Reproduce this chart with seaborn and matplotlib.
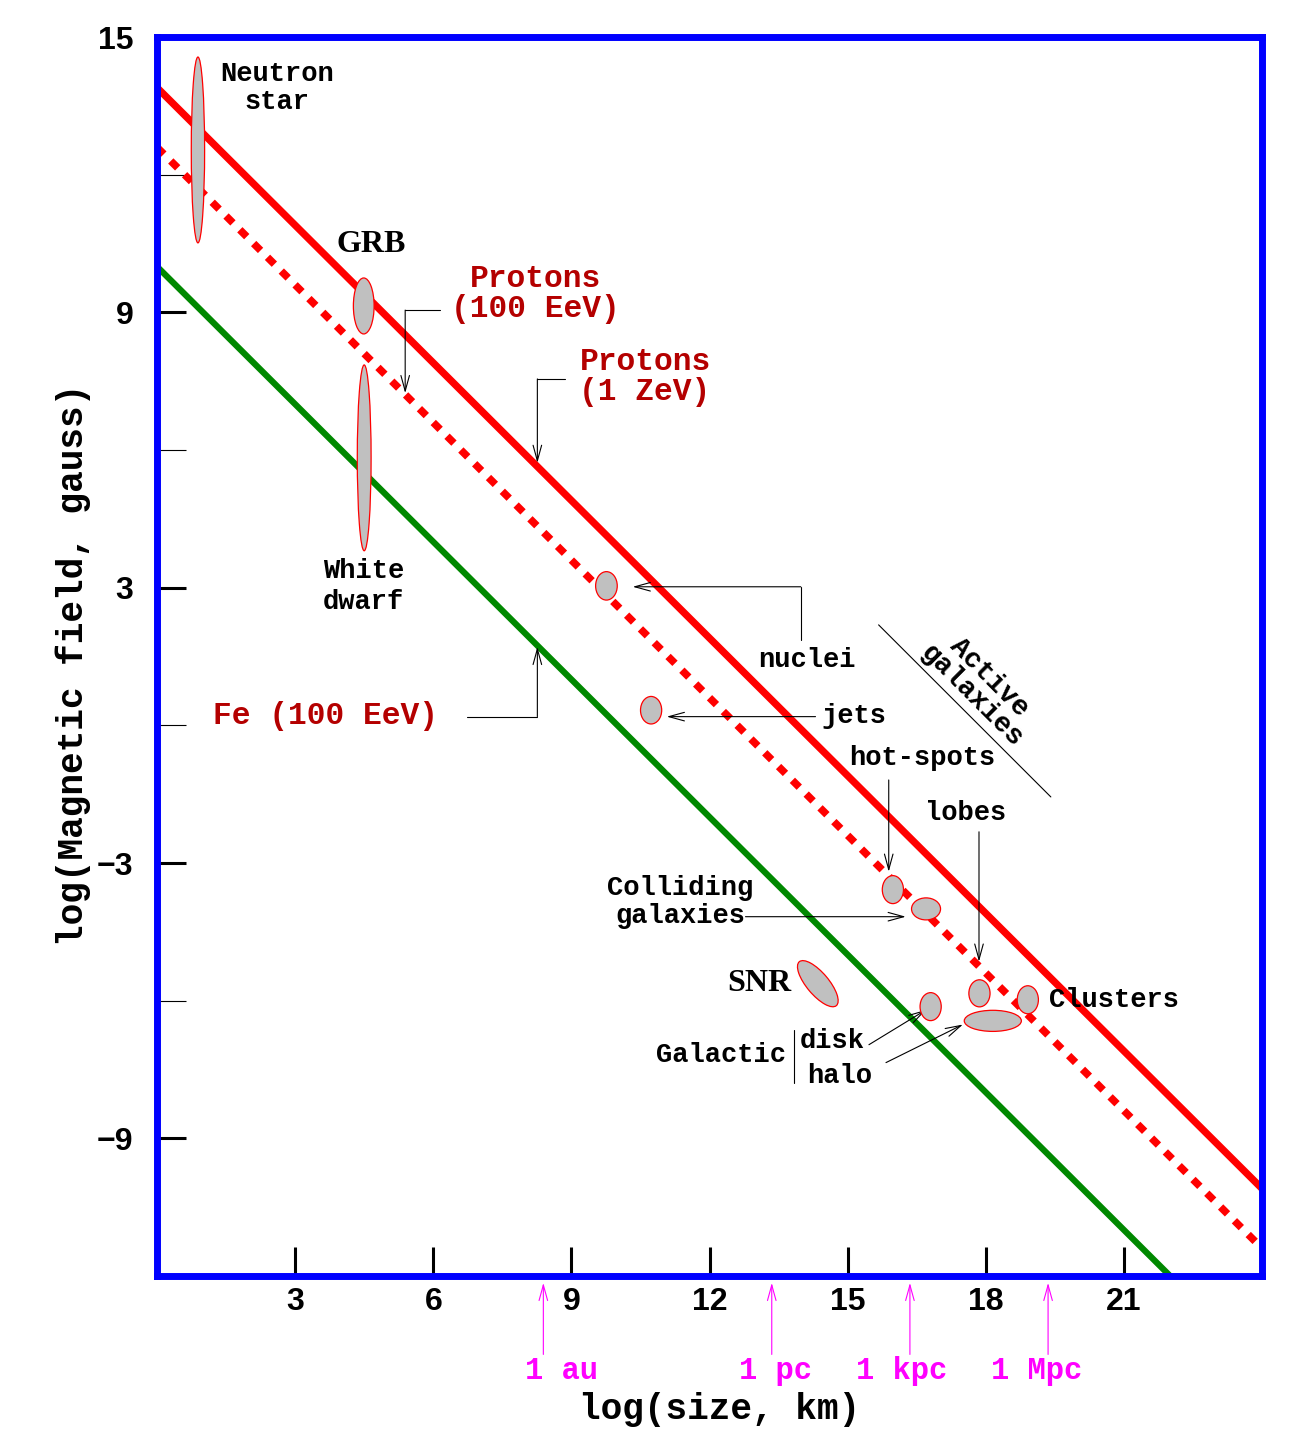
import matplotlib
matplotlib.use('Agg')
import matplotlib.pyplot as plt
from matplotlib.patches import Ellipse
import seaborn as sns

# Hillas lines: log B at both ends of the size range
line_x = [0, 24]
p_1zev = [13.9, -10.1]
p_100eev = [12.6, -11.4]
fe_x = [0, 22]
fe_100eev = [10.0, -12.0]

# sources: centre (log size, log B), extent and tilt
src_names = ['Neutron star', 'GRB', 'White dwarf', 'nuclei', 'jets', 'hot-spots',
             'Colliding galaxies', 'SNR', 'lobes', 'Clusters', 'disk', 'halo']
src_x = [0.89, 4.49, 4.50, 9.76, 10.73, 15.98, 16.70, 14.35, 17.86, 18.91, 16.80, 18.15]
src_y = [12.54, 9.14, 5.83, 3.04, 0.33, -3.58, -4.00, -5.63, -5.84, -5.98, -6.13, -6.44]
src_w = [0.29, 0.45, 0.30, 0.47, 0.46, 0.46, 0.63, 1.25, 0.46, 0.46, 0.46, 1.24]
src_h = [4.05, 1.22, 4.05, 0.62, 0.60, 0.61, 0.48, 0.48, 0.59, 0.61, 0.61, 0.46]
src_angle = [0, 0, 0, 0, 0, 0, 0, -50, 0, 0, 0, 0]

# distance units on the size axis
unit_names = ['1 au', '1 pc', '1 kpc', '1 Mpc']
unit_x = [8.39, 13.35, 16.35, 19.35]

xticks = [3, 6, 9, 12, 15, 18, 21]
yticks = [15, 9, 3, -3, -9]
yminor = [12, 6, 0, -6]

sns.set_theme(style='white')
plt.rcParams['font.family'] = ['Liberation Sans', 'DejaVu Sans']
plt.rcParams['text.color'] = 'black'
plt.rcParams['axes.labelcolor'] = 'black'
plt.rcParams['xtick.color'] = 'black'
plt.rcParams['ytick.color'] = 'black'

MONO = 'Liberation Mono'
DARKRED = '#b40000'

fig = plt.figure(figsize=(13.08, 14.48), dpi=100)
ax = fig.add_axes([0.120, 0.1188, 0.845, 0.8556])

sns.lineplot(x=line_x, y=p_1zev, ax=ax, color='#ff0000', lw=5.2)
sns.lineplot(x=line_x, y=p_100eev, ax=ax, color='#ff0000', lw=5.4)
ax.lines[-1].set_dashes([1.3, 1.3])
ax.lines[-1].set_dash_capstyle('butt')
sns.lineplot(x=fe_x, y=fe_100eev, ax=ax, color='#008800', lw=4.5)

for x, y, w, h, a in zip(src_x, src_y, src_w, src_h, src_angle):
    ax.add_patch(Ellipse((x, y), w, h, angle=a, facecolor='#c0c0c0',
                         edgecolor='#ff0000', lw=0.9, zorder=5))

ax.set_xlim(0, 24)
ax.set_ylim(-12, 15)
for s in ax.spines.values():
    s.set_color('#0000ff')
    s.set_linewidth(5)

ax.set_xticks(xticks)
ax.set_yticks(yticks)
ax.set_yticks(yminor, minor=True)
ax.tick_params(axis='both', which='major', direction='in', length=21, width=2.2,
               color='black', labelcolor='black', labelsize=23)
ax.tick_params(axis='y', which='minor', direction='in', length=21, width=0.8,
               color='black', left=True)
ax.tick_params(axis='y', which='major', pad=17, left=True)
ax.tick_params(axis='x', which='major', pad=8, bottom=True)
ax.set_yticklabels(['15', '9', '3', '\u22123', '\u22129'])
for t in ax.get_xticklabels() + ax.get_yticklabels():
    t.set_fontweight('bold')

ax.set_ylabel('log(Magnetic field, gauss)', family=MONO, weight='bold', size=26)
ax.yaxis.set_label_coords(-0.06, 0.493)
ax.set_xlabel('log(size, km)', family=MONO, weight='bold', size=26)
ax.xaxis.set_label_coords(0.509, -0.094)


def label(x, y, s, size=19.5, color='black', ha='center', spacing=1.0, **kw):
    ax.text(x, y, s, family=MONO, weight='bold', size=size, color=color,
            ha=ha, va='center', linespacing=spacing, **kw)


def pointer(pts, color='black'):
    xs = [p[0] for p in pts]
    ys = [p[1] for p in pts]
    ax.plot(xs[:-1], ys[:-1], color=color, lw=0.8, clip_on=False)
    ax.annotate('', xy=pts[-1], xytext=pts[-2], annotation_clip=False,
                arrowprops=dict(arrowstyle='->,head_length=0.8,head_width=0.22',
                                mutation_scale=14, lw=0.8, color=color,
                                shrinkA=0, shrinkB=0))


label(2.61, 13.89, 'Neutron\nstar', spacing=1.1)
ax.text(4.65, 10.47, 'GRB', family='Liberation Serif', weight='bold', size=23,
        ha='center', va='center', color='black')
label(4.48, 3.02, 'White\ndwarf', spacing=1.25)
label(8.22, 9.40, 'Protons\n(100 EeV)', size=22.5, color=DARKRED)
label(10.60, 7.59, 'Protons\n(1 ZeV)', size=22.5, color=DARKRED)
label(3.66, 0.21, 'Fe (100 EeV)', size=22.5, color=DARKRED)
label(14.11, 1.43, 'nuclei')
label(15.13, 0.21, 'jets')
label(16.61, -0.71, 'hot-spots')
label(17.57, -1.90, 'lobes')
label(11.37, -3.85, 'Colliding\ngalaxies', spacing=1.1)
ax.text(13.07, -5.63, 'SNR', family='Liberation Serif', weight='bold', size=23,
        ha='center', va='center', color='black')
label(19.37, -5.98, 'Clusters', ha='left')
label(12.24, -7.18, 'Galactic')
label(14.67, -6.87, 'disk')
label(14.83, -7.64, 'halo')
label(17.88, 0.84, 'Active\ngalaxies', size=20, rotation=-45)
ax.plot([15.67, 19.41], [2.19, -1.56], color='black', lw=0.8)
ax.plot([13.83, 13.83], [-6.63, -7.79], color='black', lw=0.8)

pointer([(6.15, 9.05), (5.39, 9.05), (5.39, 7.24)])
pointer([(8.87, 7.55), (8.26, 7.55), (8.26, 5.72)])
pointer([(6.74, 0.19), (8.26, 0.19), (8.26, 1.71)])
pointer([(13.98, 1.86), (13.98, 3.02), (10.33, 3.02)])
pointer([(14.30, 0.19), (11.07, 0.19)])
pointer([(15.89, -1.19), (15.89, -3.19)])
pointer([(17.85, -2.32), (17.85, -5.15)])
pointer([(12.78, -4.17), (16.26, -4.17)])
pointer([(15.46, -6.96), (16.70, -6.20)])
pointer([(15.83, -7.35), (17.50, -6.52)])

label_x = [8.78, 13.43, 16.17, 19.11]
for name, ux, lx in zip(unit_names, unit_x, label_x):
    pointer([(ux, -13.71), (ux, -12.15)], color='#ff00ff')
    ax.text(lx, -14.08, name, family=MONO, weight='bold', size=22, color='#ff00ff',
            ha='center', va='center', clip_on=False)

fig.savefig('out.png', dpi=100)
